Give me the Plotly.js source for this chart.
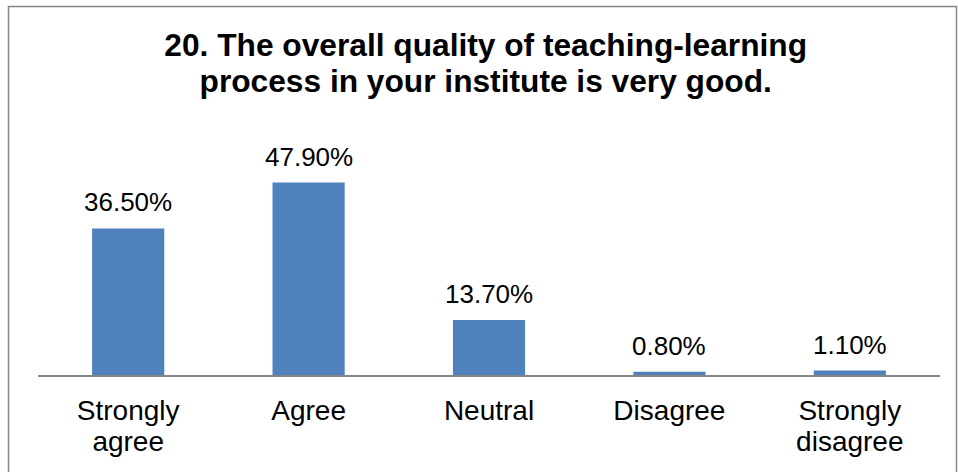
<!DOCTYPE html>
<html>
<head>
<meta charset="utf-8">
<script src="https://cdn.plot.ly/plotly-3.0.1.min.js"></script>
<style>html,body{margin:0;padding:0;background:#fff;}#chart{width:958px;height:472px;}</style>
</head>
<body>
<div id="chart"></div>
<script>
const titleLines = ['20. The overall quality of teaching-learning', 'process in your institute is very good.'];
const categories = ['Strongly agree', 'Agree', 'Neutral', 'Disagree', 'Strongly disagree'];
const tickLabels = ['Strongly<br>agree', 'Agree', 'Neutral', 'Disagree', 'Strongly<br>disagree'];
const values = [36.5, 47.9, 13.7, 0.8, 1.1];
const valueLabels = ['36.50%', '47.90%', '13.70%', '0.80%', '1.10%'];

const FONT = 'Liberation Sans, Arial, sans-serif';
const W = 958, H = 472;
const M = {l: 38, r: 18, t: 134, b: 97};
const pw = W - M.l - M.r, ph = H - M.t - M.b;
function px2paperX(px) { return (px - M.l) / pw; }
function px2paperY(py) { return (H - M.b - py) / ph; }

const wrapSpan = (s, size) => s.split('<br>').map(p => '<span style="font-size:' + size + 'px">' + p + '</span>').join('<br>');

const trace = {
  type: 'bar',
  x: categories,
  y: values,
  width: 0.4,
  marker: {color: '#4F81BD'},
  hoverinfo: 'skip'
};

const annotations = categories.map((c, i) => ({
  x: c, y: values[i], xref: 'x', yref: 'y',
  text: valueLabels[i], showarrow: false,
  yanchor: 'middle', xanchor: 'center', yshift: 26,
  font: {family: FONT, size: 26, color: '#000'}
}));

const layout = {
  width: W, height: H,
  margin: M,
  paper_bgcolor: '#fff', plot_bgcolor: '#fff',
  showlegend: false,
  title: {
    text: wrapSpan(titleLines.join('<br>'), 31.7),
    font: {family: FONT, size: 27.5, color: '#000', weight: 'bold'},
    x: 0.507, xanchor: 'center', xref: 'container',
    y: 1 - 56 / H, yanchor: 'top', yref: 'container'
  },
  xaxis: {
    type: 'category',
    tickmode: 'array', tickvals: categories,
    ticktext: tickLabels.map(t => wrapSpan(t, 28)),
    tickfont: {family: FONT, size: 24, color: '#000'},
    ticklabelstandoff: 14,
    showline: true, linecolor: '#868686', linewidth: 2,
    ticks: '', showgrid: false, zeroline: false,
    fixedrange: true
  },
  yaxis: {
    range: [0, 60], visible: false, showgrid: false, zeroline: false, fixedrange: true
  },
  annotations: annotations,
  shapes: [{
    type: 'rect', xref: 'paper', yref: 'paper', layer: 'above',
    x0: px2paperX(8.5), x1: px2paperX(956.5),
    y0: px2paperY(490), y1: px2paperY(6.5),
    line: {color: '#868686', width: 1.5}, fillcolor: 'rgba(0,0,0,0)'
  }]
};

Plotly.newPlot('chart', [trace], layout, {displayModeBar: false, staticPlot: true});
</script>
</body>
</html>
